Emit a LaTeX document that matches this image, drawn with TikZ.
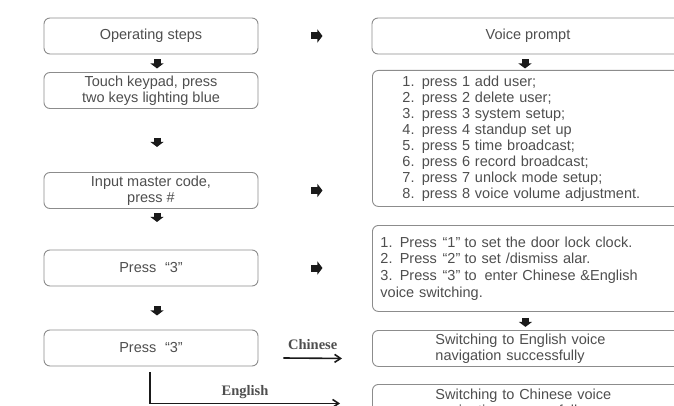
\documentclass[tikz,border=0pt]{standalone}
\usepackage{fontspec}
\setmainfont{Liberation Sans}
\newfontfamily\lblfont{Liberation Serif}
\usepackage{tikz}
\usetikzlibrary{positioning, arrows.meta, calc}
\definecolor{boxB}{HTML}{8c8c8c}
\definecolor{txtC}{HTML}{4e4e4e}
\definecolor{arwC}{HTML}{1a1a1a}

\begin{document}
\begin{tikzpicture}[x=1pt, y=-1pt,
  stp/.style={draw=boxB, rounded corners=6pt, line width=0.9pt, minimum width=214pt, minimum height=36pt, align=center, text=txtC, inner sep=0pt, font=\fontsize{14.5}{16}\selectfont},
  vbox/.style={stp, anchor=north west, align=left, minimum width=0pt},
  blk/.style={line width=7pt, color=arwC, -{Triangle[length=5pt, width=13pt]}},
  thk/.style={line width=1.6pt, color=arwC, -{Straight Barb[length=6pt, width=8pt]}},
  lbl/.style={font=\lblfont\bfseries\fontsize{14.5}{15}\selectfont, text=txtC, inner sep=1pt}]
\useasboundingbox (0,0) rectangle (674,406);
\clip (0,0) rectangle (674,406);
% operating steps
\node[stp] (l1) at (151,36) {Operating steps};
\node[stp] (l2) at (151,90.5) {Touch keypad, press\\two keys lighting blue};
\node[stp] (l3) at (151,190.5) {Input master code,\\press \#};
\node[stp] (l4) at (151,268) {Press\hspace{0.6em}“3”};
\node[stp] (l5) at (151,348) {Press\hspace{0.6em}“3”};
% voice prompt
\node[stp, minimum width=312pt] (r1) at (528,36) {Voice prompt};
\node[vbox, text width=252pt, inner xsep=30pt, minimum height=136pt] (r2) at (372,70) {1. press 1 add user;\\2. press 2 delete user;\\3. press 3 system setup;\\4. press 4 standup set up\\5. press 5 time broadcast;\\6. press 6 record broadcast;\\7. press 7 unlock mode setup;\\8. press 8 voice volume adjustment.};
\node[vbox, text width=296pt, inner xsep=8pt, minimum height=86pt, font=\fontsize{14.5}{16.6}\selectfont] (r3) at (372,225) {1. Press\hspace{0.4em}“1”\hspace{0.3em}to set the door lock clock.\\2. Press\hspace{0.4em}“2”\hspace{0.3em}to set /dismiss alar.\\3. Press\hspace{0.4em}“3”\hspace{0.3em}to\hspace{0.2em} enter Chinese \&English\\voice switching.};
\node[vbox, text width=186pt, inner xsep=63pt, minimum height=36pt] (r4) at (372,330) {Switching to English voice\\navigation successfully};
\node[vbox, text width=186pt, inner xsep=63pt, minimum height=38pt] (r5) at (372,384) {Switching to Chinese voice\\navigation successfully};
% block arrows
\draw[blk] ([xshift=6pt, yshift=-5pt]l1.south) -- ++(0,9);
\draw[blk] ([xshift=6pt, yshift=-29pt]l2.south) -- ++(0,9);
\draw[blk] ([xshift=6pt, yshift=-4pt]l3.south) -- ++(0,9);
\draw[blk] ([xshift=6pt, yshift=-20pt]l4.south) -- ++(0,9);
\draw[blk] ([xshift=-3pt, yshift=-5pt]r1.south) -- ++(0,9);
\draw[blk] ([xshift=-3pt, yshift=-6pt]r3.south) -- ++(0,9);
\draw[blk] ([xshift=53pt]l1.east) -- ++(11,0);
\draw[blk] ([xshift=53pt]l3.east) -- ++(11,0);
\draw[blk] ([xshift=53pt]l4.east) -- ++(11,0);
% language switch
\draw[thk] ([xshift=25pt, yshift=-10pt]l5.east) -- ([xshift=-30pt, yshift=-10pt]r4.west) node[lbl, midway, above=7pt] {Chinese};
\draw[thk] ([xshift=-1pt, yshift=-6pt]l5.south) |- ([xshift=-32pt]r5.west) node[lbl, pos=0.75, above=3pt] {English};
\end{tikzpicture}
\end{document}
